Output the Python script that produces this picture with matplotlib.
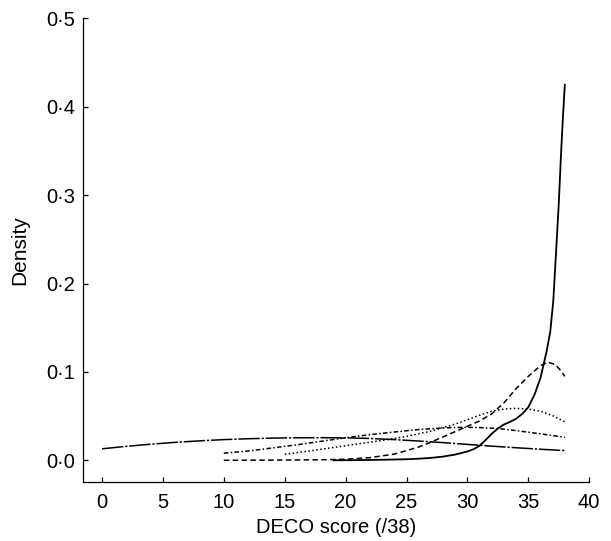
import matplotlib

matplotlib.use("Agg")
import matplotlib.pyplot as plt
from matplotlib.ticker import FuncFormatter

# density curves (DECO score, density)
LONG_X = [0, 2, 4, 6, 8, 10, 12, 14, 16, 18, 20, 22, 24, 26, 28, 30, 32, 34, 36, 38]
LONG_Y = [0.0130, 0.0158, 0.0182, 0.0203, 0.0220, 0.0234, 0.0244, 0.0251, 0.0255, 0.0256,
          0.0254, 0.0247, 0.0234, 0.0218, 0.0200, 0.0180, 0.0160, 0.0142, 0.0125, 0.0110]

DASHDOT_X = [10, 12, 14, 16, 18, 20, 22, 24, 26, 28, 29, 30, 31, 32, 33, 34, 35, 36, 37, 38]
DASHDOT_Y = [0.0080, 0.0105, 0.0140, 0.0175, 0.0215, 0.0255, 0.0290, 0.0320, 0.0348, 0.0366,
             0.0371, 0.0373, 0.0370, 0.0364, 0.0352, 0.0336, 0.0318, 0.0300, 0.0280, 0.0260]

DOTTED_X = [15, 17, 19, 21, 23, 25, 27, 29, 30, 31, 32, 33, 34, 35, 36, 37, 38]
DOTTED_Y = [0.0068, 0.0105, 0.0145, 0.0185, 0.0225, 0.0270, 0.0330, 0.0410, 0.0460, 0.0510,
            0.0555, 0.0580, 0.0588, 0.0580, 0.0555, 0.0505, 0.0435]

DASHED_X = [10, 14, 18, 20, 22, 24, 26, 27, 28, 29, 30, 31, 32, 33, 34, 35, 36, 36.6,
            37.2, 37.6, 38]
DASHED_Y = [0.0000, 0.0002, 0.0006, 0.0012, 0.0030, 0.0070, 0.0150, 0.0205, 0.0265, 0.0325,
            0.0385, 0.0445, 0.0525, 0.0650, 0.0810, 0.0950, 0.1070, 0.1110, 0.1085, 0.1025,
            0.0950]

STEEP_X = [19, 21, 23, 25, 26, 27, 28, 29, 29.5, 30, 30.5, 31, 31.5, 32, 32.5, 33, 33.5, 34,
           34.5, 35, 35.5, 36, 36.25, 36.5, 36.8, 37.05, 37.3, 37.5, 37.7, 37.85, 38]
STEEP_Y = [0.0, 0.0002, 0.0006, 0.0012, 0.0018, 0.0027, 0.0042, 0.0065, 0.0082, 0.0100,
           0.0125, 0.0165, 0.0230, 0.0300, 0.0360, 0.0405, 0.0435, 0.0470, 0.0525, 0.0600,
           0.0740, 0.0930, 0.1080, 0.1230, 0.1450, 0.1800, 0.2400, 0.2900, 0.3500, 0.3900,
           0.4250]

X_TICKS = [0, 5, 10, 15, 20, 25, 30, 35, 40]
Y_TICKS = [0.0, 0.1, 0.2, 0.3, 0.4, 0.5]

plt.rcParams["font.family"] = ["Liberation Sans", "DejaVu Sans"]

fig = plt.figure(figsize=(6.11, 5.41), dpi=100)
ax = fig.add_axes([0.1363, 0.1085, 0.828, 0.8575])

line_kw = dict(color="black", linewidth=1.1)
ax.plot(LONG_X, LONG_Y, dashes=(14, 1.2, 1.5, 1.2), **line_kw)
ax.plot(DASHDOT_X, DASHDOT_Y, dashes=(3, 1.5, 1, 1.5), **line_kw)
ax.plot(DOTTED_X, DOTTED_Y, dashes=(1, 1.6), **line_kw)
ax.plot(DASHED_X, DASHED_Y, dashes=(3.6, 2.2), **line_kw)
ax.plot(STEEP_X, STEEP_Y, color="black", linewidth=1.3)

ax.set_xlim(-1.54, 40)
ax.set_ylim(-0.0249, 0.5)
ax.set_xticks(X_TICKS)
ax.set_yticks(Y_TICKS)
ax.yaxis.set_major_formatter(FuncFormatter(lambda v, _: f"{v:.1f}".replace(".", "\u00b7")))

for side in ("top", "right"):
    ax.spines[side].set_visible(False)
for side in ("left", "bottom"):
    ax.spines[side].set_linewidth(0.9)

ax.tick_params(direction="in", length=3.5, width=0.9, labelsize=14.5)
ax.tick_params(axis="y", pad=6)
ax.tick_params(axis="x", pad=8)

ax.set_xlabel("DECO score (/38)", fontsize=14.5, labelpad=4)
ax.set_ylabel("Density", fontsize=15, labelpad=12)

fig.savefig("out.png", dpi=100)
